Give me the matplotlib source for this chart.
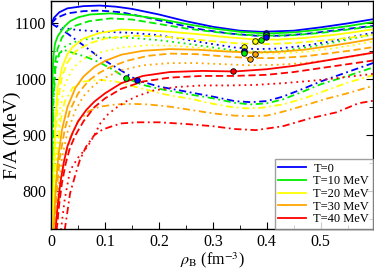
import matplotlib
matplotlib.use("Agg")
import matplotlib.pyplot as plt
from matplotlib.lines import Line2D
from matplotlib.ticker import MultipleLocator

plt.rcParams["font.family"] = ["Liberation Serif", "DejaVu Serif"]
plt.rcParams["mathtext.fontset"] = "stix"

# ── T = 0 (blue) ─────────────────────────────────────────────────────────────
b_sol_x = [0, 0.005, 0.015, 0.03, 0.06, 0.09, 0.12, 0.15, 0.2, 0.25, 0.3, 0.35, 0.39, 0.45, 0.5, 0.55, 0.6]
b_sol_y = [1098, 1110, 1120, 1127, 1131, 1132, 1130, 1126, 1116, 1104, 1094, 1087, 1085, 1087, 1093, 1100, 1108]
b_dsh_x = [0, 0.01, 0.03, 0.06, 0.09, 0.13, 0.18, 0.23, 0.28, 0.33, 0.38, 0.43, 0.48, 0.53, 0.6]
b_dsh_y = [1100, 1110, 1118, 1122, 1123, 1120, 1110, 1099, 1089, 1082, 1078, 1078, 1082, 1088, 1096]
b_dot_x = [0, 0.02, 0.05, 0.1, 0.15, 0.2, 0.25, 0.3, 0.34, 0.38, 0.42, 0.47, 0.52, 0.56, 0.6]
b_dot_y = [1100, 1092, 1088, 1085, 1083, 1079, 1071, 1063, 1057, 1054, 1055, 1060, 1068, 1076, 1084]
b_dd_x = [0, 0.03, 0.09, 0.16, 0.2, 0.25, 0.3, 0.34, 0.37, 0.4, 0.43, 0.47, 0.5, 0.55, 0.6]
b_dd_y = [1100, 1082, 1039, 998, 987, 978, 969, 961, 959, 961, 969, 984, 996, 1013, 1030]

# ── T = 10 MeV (green) ───────────────────────────────────────────────────────
g_sol_x = [0.0006, 0.0015, 0.004, 0.007, 0.012, 0.017, 0.025, 0.035, 0.05, 0.072, 0.11, 0.15, 0.2, 0.25, 0.3, 0.35, 0.4, 0.45, 0.5, 0.55, 0.6]
g_sol_y = [720, 980, 1040, 1064, 1077, 1084, 1095, 1104, 1111, 1116, 1118, 1115, 1108, 1099, 1091, 1085, 1082, 1084, 1089, 1095, 1103]
g_dsh_x = [0.001, 0.003, 0.007, 0.012, 0.02, 0.03, 0.045, 0.07, 0.11, 0.15, 0.2, 0.25, 0.3, 0.35, 0.4, 0.45, 0.5, 0.55, 0.6]
g_dsh_y = [720, 960, 1030, 1055, 1075, 1087, 1096, 1104, 1109, 1107, 1099, 1091, 1085, 1080, 1078, 1079, 1083, 1089, 1095]
g_dot_x = [0.001, 0.004, 0.008, 0.015, 0.025, 0.04, 0.06, 0.1, 0.15, 0.2, 0.25, 0.3, 0.35, 0.39, 0.43, 0.48, 0.53, 0.57, 0.6]
g_dot_y = [720, 960, 1020, 1045, 1058, 1066, 1071, 1075, 1074, 1070, 1064, 1057, 1050, 1049, 1051, 1058, 1067, 1075, 1081]
g_dd_x = [0.001, 0.004, 0.008, 0.015, 0.025, 0.045, 0.065, 0.09, 0.115, 0.139, 0.17, 0.2, 0.25, 0.3, 0.34, 0.37, 0.4, 0.43, 0.47, 0.5, 0.55, 0.6]
g_dd_y = [720, 960, 1025, 1047, 1052, 1046, 1040, 1030, 1017, 1002, 990, 983, 974, 966, 958, 955, 957, 964, 979, 991, 1006, 1022]

# ── T = 20 MeV (yellow) ──────────────────────────────────────────────────────
y_sol_x = [0.002, 0.005, 0.008, 0.012, 0.02, 0.03, 0.04, 0.06, 0.09, 0.13, 0.17, 0.22, 0.27, 0.32, 0.37, 0.42, 0.47, 0.52, 0.56, 0.6]
y_sol_y = [720, 850, 930, 985, 1021, 1045, 1058, 1073, 1083, 1089, 1088, 1085, 1081, 1076, 1072, 1071, 1074, 1079, 1084, 1090]
y_dsh_x = [0.003, 0.007, 0.012, 0.02, 0.03, 0.045, 0.07, 0.1, 0.15, 0.2, 0.25, 0.3, 0.35, 0.4, 0.45, 0.5, 0.55, 0.6]
y_dsh_y = [720, 880, 960, 1005, 1030, 1050, 1064, 1073, 1078, 1077, 1073, 1068, 1064, 1063, 1065, 1069, 1074, 1080]
y_dot_x = [0.004, 0.01, 0.017, 0.025, 0.04, 0.06, 0.09, 0.13, 0.18, 0.23, 0.28, 0.33, 0.37, 0.42, 0.47, 0.52, 0.56, 0.6]
y_dot_y = [720, 870, 950, 990, 1020, 1037, 1048, 1057, 1061, 1060, 1056, 1050, 1047, 1046, 1049, 1055, 1061, 1068]
y_dd_x = [0.004, 0.01, 0.017, 0.025, 0.04, 0.06, 0.09, 0.12, 0.15, 0.19, 0.22, 0.26, 0.29, 0.33, 0.36, 0.39, 0.43, 0.47, 0.51, 0.55, 0.6]
y_dd_y = [720, 850, 925, 960, 985, 996, 999, 996, 988, 978, 971, 965, 958, 951, 948, 949, 955, 966, 980, 994, 1008]

# ── T = 30 MeV (orange) ──────────────────────────────────────────────────────
o_sol_x = [0.004, 0.008, 0.013, 0.02, 0.03, 0.045, 0.06, 0.08, 0.1, 0.13, 0.17, 0.22, 0.27, 0.32, 0.37, 0.42, 0.47, 0.52, 0.56, 0.6]
o_sol_y = [720, 800, 860, 910, 950, 985, 1005, 1022, 1033, 1044, 1051, 1054, 1053, 1050, 1048, 1049, 1053, 1060, 1066, 1073]
o_dsh_x = [0.005, 0.01, 0.016, 0.025, 0.035, 0.05, 0.07, 0.09, 0.11, 0.14, 0.18, 0.22, 0.27, 0.32, 0.37, 0.42, 0.47, 0.52, 0.56, 0.6]
o_dsh_y = [720, 800, 860, 910, 945, 975, 998, 1012, 1022, 1033, 1042, 1046, 1045, 1041, 1038, 1038, 1041, 1047, 1052, 1058]
o_dot_x = [0.007, 0.013, 0.02, 0.03, 0.045, 0.06, 0.08, 0.1, 0.13, 0.17, 0.22, 0.27, 0.32, 0.37, 0.42, 0.47, 0.52, 0.56, 0.6]
o_dot_y = [720, 800, 860, 905, 945, 970, 990, 1003, 1016, 1025, 1029, 1029, 1027, 1025, 1026, 1029, 1035, 1041, 1048]
o_dd_x = [0.01, 0.016, 0.025, 0.035, 0.05, 0.07, 0.09, 0.12, 0.15, 0.18, 0.22, 0.26, 0.3, 0.34, 0.37, 0.4, 0.43, 0.47, 0.51, 0.55, 0.6]
o_dd_y = [720, 800, 860, 895, 925, 943, 951, 955, 956, 955, 951, 945, 939, 935, 934, 935, 942, 953, 965, 975, 989]

# ── T = 40 MeV (red) ─────────────────────────────────────────────────────────
r_sol_x = [0.008, 0.012, 0.017, 0.023, 0.03, 0.04, 0.05, 0.065, 0.08, 0.1, 0.13, 0.17, 0.22, 0.28, 0.34, 0.4, 0.45, 0.5, 0.55, 0.6]
r_sol_y = [730, 775, 815, 850, 880, 905, 925, 945, 960, 975, 993, 1006, 1013, 1015, 1014, 1018, 1024, 1032, 1040, 1048]
r_dsh_x = [0.01, 0.014, 0.02, 0.027, 0.035, 0.045, 0.06, 0.08, 0.1, 0.13, 0.17, 0.22, 0.28, 0.34, 0.4, 0.45, 0.5, 0.55, 0.6]
r_dsh_y = [730, 770, 815, 850, 878, 900, 925, 950, 966, 983, 996, 1003, 1006, 1006, 1008, 1013, 1020, 1027, 1034]
r_dot_x = [0.018, 0.025, 0.035, 0.05, 0.067, 0.08, 0.091, 0.105, 0.122, 0.14, 0.16, 0.19, 0.23, 0.28, 0.33, 0.38, 0.43, 0.48, 0.53, 0.6]
r_dot_y = [730, 785, 837, 860, 879, 900, 921, 937, 950, 961, 970, 980, 986, 989, 989, 990, 993, 997, 1002, 1010]
r_dd_x = [0.025, 0.035, 0.045, 0.053, 0.065, 0.08, 0.095, 0.11, 0.13, 0.16, 0.2, 0.25, 0.3, 0.34, 0.38, 0.43, 0.48, 0.53, 0.57, 0.6]
r_dd_y = [730, 796, 830, 855, 880, 900, 910, 915, 921, 923, 923, 920, 916, 911, 909, 916, 930, 941, 957, 962]

# ── marked points ────────────────────────────────────────────────────────────
mk_x = [0.139, 0.159, 0.337, 0.357, 0.357, 0.357, 0.378, 0.368, 0.378, 0.389, 0.398, 0.398, 0.398]
mk_y = [1002, 998, 1014, 1057, 1051, 1047, 1046, 1037, 1068, 1071, 1083, 1079, 1075]
mk_t = [10, 0, 40, 20, 0, 10, 30, 30, 20, 10, 0, 10, 0]

labels = ["T=0", "T=10 MeV", "T=20 MeV", "T=30 MeV", "T=40 MeV"]
temps = [0, 10, 20, 30, 40]
colors = {0: "#0000ff", 10: "#00ee00", 20: "#ffff00", 30: "#ffa500", 40: "#ff0000"}

curves = {
    0:  [(b_sol_x, b_sol_y), (b_dsh_x, b_dsh_y), (b_dot_x, b_dot_y), (b_dd_x, b_dd_y)],
    10: [(g_sol_x, g_sol_y), (g_dsh_x, g_dsh_y), (g_dot_x, g_dot_y), (g_dd_x, g_dd_y)],
    20: [(y_sol_x, y_sol_y), (y_dsh_x, y_dsh_y), (y_dot_x, y_dot_y), (y_dd_x, y_dd_y)],
    30: [(o_sol_x, o_sol_y), (o_dsh_x, o_dsh_y), (o_dot_x, o_dot_y), (o_dd_x, o_dd_y)],
    40: [(r_sol_x, r_sol_y), (r_dsh_x, r_dsh_y), (r_dot_x, r_dot_y), (r_dd_x, r_dd_y)],
}
styles = ["-", (0, (4, 2)), (0, (1, 2.2)), (0, (4, 2, 1, 2))]

fig = plt.figure(figsize=(3.74, 2.71), dpi=100)
ax = fig.add_axes([0.137, 0.155, 0.860, 0.841])

for t in temps:
    for (xs, ys), ls in zip(curves[t], styles):
        ax.plot(xs, ys, color=colors[t], lw=1.3, ls=ls)

for x, y, t in zip(mk_x, mk_y, mk_t):
    ax.plot(x, y, "o", ms=4, mfc=colors[t], mec="black", mew=0.6, zorder=5)

ax.set_xlim(0, 0.597)
ax.set_ylim(732, 1140)
ax.xaxis.set_minor_locator(MultipleLocator(0.05))
ax.yaxis.set_major_locator(MultipleLocator(100))
ax.yaxis.set_minor_locator(MultipleLocator(50))
ax.set_xticks([0, 0.1, 0.2, 0.3, 0.4, 0.5])
ax.set_xticklabels(["0", "0.1", "0.2", "0.3", "0.4", "0.5"])
ax.tick_params(which="both", direction="in", top=True, right=True, labelsize=11.5, pad=3.5)
ax.tick_params(which="major", length=5)
ax.tick_params(which="minor", length=3)
for s in ax.spines.values():
    s.set_linewidth(1.0)

ax.set_xlabel(r"$\rho_{\rm B}$ (fm$^{-3}$)", fontsize=11.5, labelpad=0.5)
ax.set_ylabel("F/A (MeV)", fontsize=14)
ax.yaxis.set_label_coords(-0.095, 0.41)

handles = [Line2D([], [], color=colors[t], lw=1.3) for t in temps]
leg = ax.legend(handles, labels, loc="lower right", fontsize=9, frameon=True,
                fancybox=False, borderaxespad=0, handlelength=2.2,
                labelspacing=0.05, borderpad=0.3, handletextpad=0.6)
leg.get_frame().set_edgecolor("#888888")
leg.get_frame().set_linewidth(1.0)

fig.savefig("out.png", dpi=100)
